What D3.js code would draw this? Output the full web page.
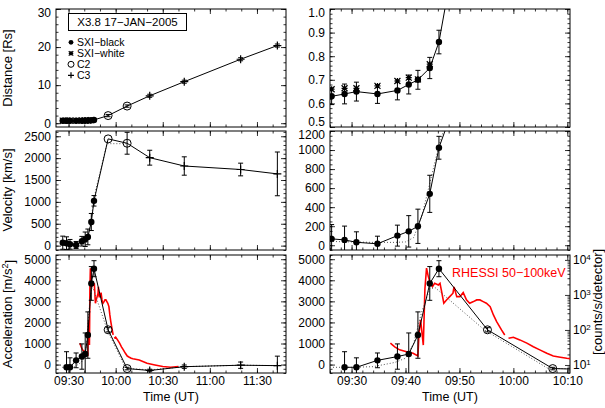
<!DOCTYPE html>
<html><head><meta charset="utf-8">
<script src="https://cdn.jsdelivr.net/npm/d3@7"></script>
<style>
body{margin:0;background:#fff;}
svg{font-family:"Liberation Sans",Arial,Helvetica,sans-serif;}
</style></head><body>
<svg id="chart" width="605" height="408"></svg>
<script>
// all times are minutes after 09:00 UT
const sxiT       = [26.3, 28.7, 30.9, 34.8, 38.5, 40.6, 42.3, 44.5, 46.2];
const sxiBlackD  = [0.63, 0.64, 0.65, 0.64, 0.655, 0.68, 0.70, 0.75, 0.86];
const sxiDErr    = [0.035, 0.042, 0.04, 0.04, 0.04, 0.04, 0.04, 0.045, 0.05];
const sxiWhiteT  = [26.3, 28.7, 30.9, 34.8, 38.5, 40.6, 42.3, 44.5];
const sxiWhiteD  = [0.66, 0.664, 0.664, 0.674, 0.695, 0.709, 0.702, 0.766];
const sxiV       = [67, 56, 31, 15, 101, 146, 199, 540, 1024];
const sxiVErr    = [150, 145, 110, 80, 110, 165, 180, 195, 120];
const sxiAT      = [28.7, 30.9, 34.8, 38.5, 40.6, 42.3, 44.5, 46.2];
const sxiA       = [-130, -130, 200, 380, 500, 1400, 3850, 4550];
const sxiAErr    = [740, 450, 350, 600, 1000, 1100, 800, 380];

// C2 (first two) and C3 (last four)
const c2T = [55.2, 67.3];
const c3T = [81.7, 103.7, 139.6, 163.0];
const c2D = [2.0, 4.5];
const c3D = [7.2, 10.9, 16.8, 20.4];
const c2V = [2440, 2340];
const c3V = [2010, 1820, 1740, 1640];
const c2VErr = [0, 250];
const c3VErr = [170, 210, 145, 500];
const c2A = [1650, -190];
const c3A = [-280, -100, -30, -50];
const c2AErr = [100, 60];
const c3AErr = [60, 80, 150, 450];

// dotted fit curves
const fitVT = [26, 30, 34, 38, 40, 41.5, 43, 44.5, 46, 47.5, 54.5, 67.3];
const fitV  = [40, 35, 30, 30, 35, 80, 300, 650, 1000, 1300, 2330, 2330];
const fitAT = [26, 30, 34, 38, 40, 41.5, 43, 44.5, 45.5, 54.6, 66.4, 82, 104, 140, 163];
const fitA  = [-130, -130, -100, 100, 300, 1000, 2500, 3600, 3650, 1650, -180, -250, -100, -30, -50];

// RHESSI 50-100 keV count rate (null = data gap)
const rhessiT = [37.2, 38.0, 38.9, 40.2, 41.4, 42.3, 42.5, 42.8, 43.0, 43.3, 43.6, 43.9, 44.2, 44.5, 45.0,
  45.4, 46.1, 46.4, 46.7, 47.1, 47.6, 48.2, 48.8, 49.0, 49.5, 50.1, 50.7, 51.3, 51.9, 52.6, 53.2, 53.8,
  54.4, 55.0, 55.7, 56.3, 56.9, 57.8, 58.4, 58.7, 59.1, 60.0, 61.2, 62.5, 63.7, 64.9, 66.2, 67.4, 68.7,
  69.9, 71, 75, 80, 85, 90, 95, 100];
const rhessiC = [42, 33, 27, 24, 21.5, 18, 80, 193, 100, 37, 1500, 5800, 3500, 2400, 1730,
  2150, 1930, 2150, 1245, 578, 720, 896, 1117, 1700, 896, 896, 1167, 720, 578, 645, 720, 720,
  645, 578, 464, 268, 173, 100, 72, null, 58, 62, 52, 42, 33, 27, 21.5, 18, 16.6,
  15.5, 15, 13.9, 11.2, 10, 9, 8.6, 9];

const svg = d3.select("#chart");
const fmtTime = m => d3.format("02")(9 + Math.floor(m / 60)) + ":" + d3.format("02")(m % 60);

const cols = [{x0: 56, x1: 286, dom: [22, 168.5], major: d3.range(30, 169, 30), minor: d3.range(30, 169, 10)},
              {x0: 330, x1: 570, dom: [26, 70.5], major: d3.range(30, 71, 10), minor: d3.range(26, 71, 2)}];
const rows = [{y0: 9, y1: 127}, {y0: 131, y1: 250}, {y0: 255, y1: 373}];

function makePanel(ci, ri, yDom, yMajor, yMinor, yFmt) {
  const c = cols[ci], r = rows[ri];
  const w = c.x1 - c.x0, h = r.y1 - r.y0;
  const x = d3.scaleLinear().domain(c.dom).range([0, w]);
  const y = d3.scaleLinear().domain(yDom).range([h, 0]);
  const g = svg.append("g").attr("transform", `translate(${c.x0},${r.y0})`);
  const id = "clip" + ci + ri;
  g.append("clipPath").attr("id", id).append("rect").attr("width", w).attr("height", h);

  const ax = (sel, axis) => { sel.call(axis); sel.select(".domain").remove(); return sel; };
  // major + minor ticks on all four sides
  ax(g.append("g").attr("transform", `translate(0,${h})`),
     d3.axisBottom(x).tickValues(c.major).tickSize(-5).tickPadding(3).tickFormat(ri === 2 ? fmtTime : ""));
  ax(g.append("g").attr("transform", `translate(0,${h})`),
     d3.axisBottom(x).tickValues(c.minor).tickSize(-2.5).tickFormat(""));
  ax(g.append("g"), d3.axisTop(x).tickValues(c.major).tickSize(-5).tickFormat(""));
  ax(g.append("g"), d3.axisTop(x).tickValues(c.minor).tickSize(-2.5).tickFormat(""));
  const yl = ax(g.append("g"), d3.axisLeft(y).tickValues(yMajor).tickSize(-5).tickPadding(5).tickFormat(yFmt));
  // labels that sit on the panel edges are pushed slightly inward
  yl.selectAll(".tick text").attr("dy", d => Math.abs(y(d)) < 1 ? "0.65em" : Math.abs(y(d) - h) < 1 ? "-0.1em" : "0.32em");
  ax(g.append("g"), d3.axisLeft(y).tickValues(yMinor).tickSize(-2.5).tickFormat(""));
  if (!(ci === 1 && ri === 2)) {
    ax(g.append("g").attr("transform", `translate(${w},0)`), d3.axisRight(y).tickValues(yMajor).tickSize(-5).tickFormat(""));
    ax(g.append("g").attr("transform", `translate(${w},0)`), d3.axisRight(y).tickValues(yMinor).tickSize(-2.5).tickFormat(""));
  }
  g.selectAll(".tick line").attr("stroke", "#000").attr("stroke-width", 0.8);
  g.selectAll(".tick text").attr("font-size", 12).attr("fill", "#000").attr("font-family", "Liberation Sans, Arial, sans-serif");
  g.append("rect").attr("width", w).attr("height", h).attr("fill", "none").attr("stroke", "#000").attr("stroke-width", 1);
  const plot = g.append("g").attr("clip-path", `url(#${id})`);
  return {g, plot, x, y, w, h};
}

function line(p, ts, vs, opts) {
  const pts = ts.map((t, i) => [t, vs[i]]);
  p.plot.append("path").datum(pts)
    .attr("d", d3.line().defined(d => d[1] !== null).x(d => p.x(d[0])).y(d => p.y(d[1])))
    .attr("fill", "none").attr("stroke", opts.color || "#000")
    .attr("stroke-width", opts.width || 1)
    .attr("stroke-dasharray", opts.dash || null);
}

function errBars(p, ts, vs, es) {
  ts.forEach((t, i) => {
    if (!es[i]) return;
    const xx = p.x(t), ya = p.y(vs[i] - es[i]), yb = p.y(vs[i] + es[i]);
    p.plot.append("line").attr("x1", xx).attr("x2", xx).attr("y1", ya).attr("y2", yb).attr("stroke", "#000");
    [ya, yb].forEach(yy => p.plot.append("line").attr("x1", xx - 2.5).attr("x2", xx + 2.5)
      .attr("y1", yy).attr("y2", yy).attr("stroke", "#000"));
  });
}

function marks(sel, px, py, kind, s) {
  s = s || 1;
  if (kind === "dot") sel.append("circle").attr("cx", px).attr("cy", py).attr("r", 3.2 * s).attr("fill", "#000");
  if (kind === "ring") sel.append("circle").attr("cx", px).attr("cy", py).attr("r", 4 * s).attr("fill", "none").attr("stroke", "#000");
  if (kind === "plus") {
    const a = 4 * s;
    sel.append("path").attr("d", `M${px - a},${py}H${px + a}M${px},${py - a}V${py + a}`).attr("stroke", "#000").attr("stroke-width", 1.2);
  }
  if (kind === "star") {
    const a = 3 * s;
    sel.append("path").attr("d", `M${px - a},${py}H${px + a}M${px},${py - a}V${py + a}M${px - a},${py - a}L${px + a},${py + a}M${px - a},${py + a}L${px + a},${py - a}`)
      .attr("stroke", "#000").attr("stroke-width", 1.2);
  }
}

function points(p, ts, vs, kind) {
  ts.forEach((t, i) => marks(p.plot, p.x(t), p.y(vs[i]), kind));
}

const cmeT = c2T.concat(c3T);

// ---- distance ----
const dL = makePanel(0, 0, [-1, 30], [0, 10, 20, 30], d3.range(-0, 31, 2), d3.format("d"));
const dR = makePanel(1, 0, [0.5, 1.0], d3.range(0.5, 1.01, 0.1), d3.range(0.5, 1.001, 0.02), d3.format(".1f"));
[dL, dR].forEach(p => {
  line(p, sxiT.concat(cmeT), sxiBlackD.concat(c2D, c3D), {});
  errBars(p, sxiT, sxiBlackD, sxiDErr);
  errBars(p, cmeT, c2D.concat(c3D), [0.3, 0.3, 0.4, 0.4, 0.4, 0.4]);
  points(p, sxiWhiteT, sxiWhiteD, "star");
  points(p, sxiT, sxiBlackD, "dot");
  points(p, c2T, c2D, "ring");
  points(p, c3T, c3D, "plus");
});

// ---- velocity ----
const vL = makePanel(0, 1, [-100, 2620], d3.range(0, 2501, 500), d3.range(-100, 2601, 100), d3.format("d"));
const vR = makePanel(1, 1, [-50, 1200], d3.range(0, 1201, 200), d3.range(-50, 1201, 50), d3.format("d"));
[vL, vR].forEach(p => {
  line(p, fitVT, fitV, {dash: "1,2", color: "#555"});
  line(p, sxiT.concat(cmeT), sxiV.concat(c2V, c3V), {});
  errBars(p, sxiT, sxiV, sxiVErr);
  errBars(p, cmeT, c2V.concat(c3V), c2VErr.concat(c3VErr));
  points(p, sxiT, sxiV, "dot");
  points(p, c2T, c2V, "ring");
  points(p, c3T, c3V, "plus");
});

// ---- acceleration + RHESSI ----
const aL = makePanel(0, 2, [-400, 5200], d3.range(0, 5001, 1000), d3.range(-400, 5201, 200), d3.format("d"));
const aR = makePanel(1, 2, [-400, 5200], d3.range(0, 5001, 1000), d3.range(-400, 5201, 200), d3.format("d"));
const yLog = d3.scaleLog().domain([5.9, 13800]).range([aR.h, 0]);
[aL, aR].forEach(p => {
  const pts = rhessiT.map((t, i) => [t, rhessiC[i]]);
  p.plot.append("path").datum(pts)
    .attr("d", d3.line().defined(d => d[1] !== null).x(d => p.x(d[0])).y(d => yLog(d[1])))
    .attr("fill", "none").attr("stroke", "#ff0000").attr("stroke-width", 1.6);
  line(p, fitAT, fitA, {dash: "1,2", color: "#555"});
  line(p, sxiAT.concat(cmeT), sxiA.concat(c2A, c3A), {});
  errBars(p, sxiAT, sxiA, sxiAErr);
  errBars(p, cmeT, c2A.concat(c3A), c2AErr.concat(c3AErr));
  points(p, sxiAT, sxiA, "dot");
  points(p, c2T, c2A, "ring");
  points(p, c3T, c3A, "plus");
});

// log axis on the right of the right acceleration panel
const logMajor = [10, 100, 1000, 10000];
const logMinor = d3.range(1, 5).flatMap(e => d3.range(2, 10).map(k => k * Math.pow(10, e - 1))).filter(v => v > 5.9 && v < 13800);
const la = aR.g.append("g").attr("transform", `translate(${aR.w},0)`)
  .call(d3.axisRight(yLog).tickValues(logMajor).tickSize(-5).tickPadding(3).tickFormat(""));
la.select(".domain").remove();
la.selectAll(".tick text").each(function(d) {
  const t = d3.select(this).attr("font-size", 12).attr("fill", "#000");
  t.text("10");
  t.append("tspan").attr("dy", "-0.5em").attr("font-size", 8).text(Math.round(Math.log10(d)));
});
const lm = aR.g.append("g").attr("transform", `translate(${aR.w},0)`)
  .call(d3.axisRight(yLog).tickValues(logMinor).tickSize(-2.5).tickFormat(""));
lm.select(".domain").remove();
aR.g.selectAll(".tick line").attr("stroke", "#000").attr("stroke-width", 0.8);

// legend
const lg = svg.append("g");
lg.append("rect").attr("x", 68.5).attr("y", 13.5).attr("width", 118).attr("height", 17).attr("fill", "#fff").attr("stroke", "#000");
lg.append("text").attr("x", 127.5).attr("y", 26).attr("text-anchor", "middle").attr("font-size", 11.5).text("X3.8  17\u2212JAN\u22122005");
const legItems = [["dot", "SXI\u2212black"], ["star", "SXI\u2212white"], ["ring", "C2"], ["plus", "C3"]];
legItems.forEach((it, i) => {
  const yy = 42.3 + i * 11;
  marks(lg, 71, yy, it[0], 0.75);
  lg.append("text").attr("x", 77).attr("y", yy + 3.6).attr("font-size", 10.5).text(it[1]);
});

aR.g.append("text").attr("x", 122).attr("y", 22).attr("fill", "#ff0000").attr("font-size", 12.5).text("RHESSI 50\u2212100keV");

// axis titles
const ytitle = (cx, cy, rot) => svg.append("text").attr("transform", `translate(${cx},${cy}) rotate(${rot})`)
  .attr("text-anchor", "middle").attr("font-size", 13);
ytitle(12, 68, -90).text("Distance [Rs]");
ytitle(12, 190, -90).text("Velocity [km/s]");
const at = ytitle(12, 314, -90).text("Acceleration [m/s");
at.append("tspan").attr("dy", "-0.45em").attr("font-size", 9).text("2");
at.append("tspan").attr("dy", "0.45em").text("]");
ytitle(602, 302, -90).text("[counts/s/detector]");
svg.append("text").attr("x", 171).attr("y", 401).attr("text-anchor", "middle").attr("font-size", 12.5).text("Time (UT)");
svg.append("text").attr("x", 450).attr("y", 401).attr("text-anchor", "middle").attr("font-size", 12.5).text("Time (UT)");
</script>
</body></html>
